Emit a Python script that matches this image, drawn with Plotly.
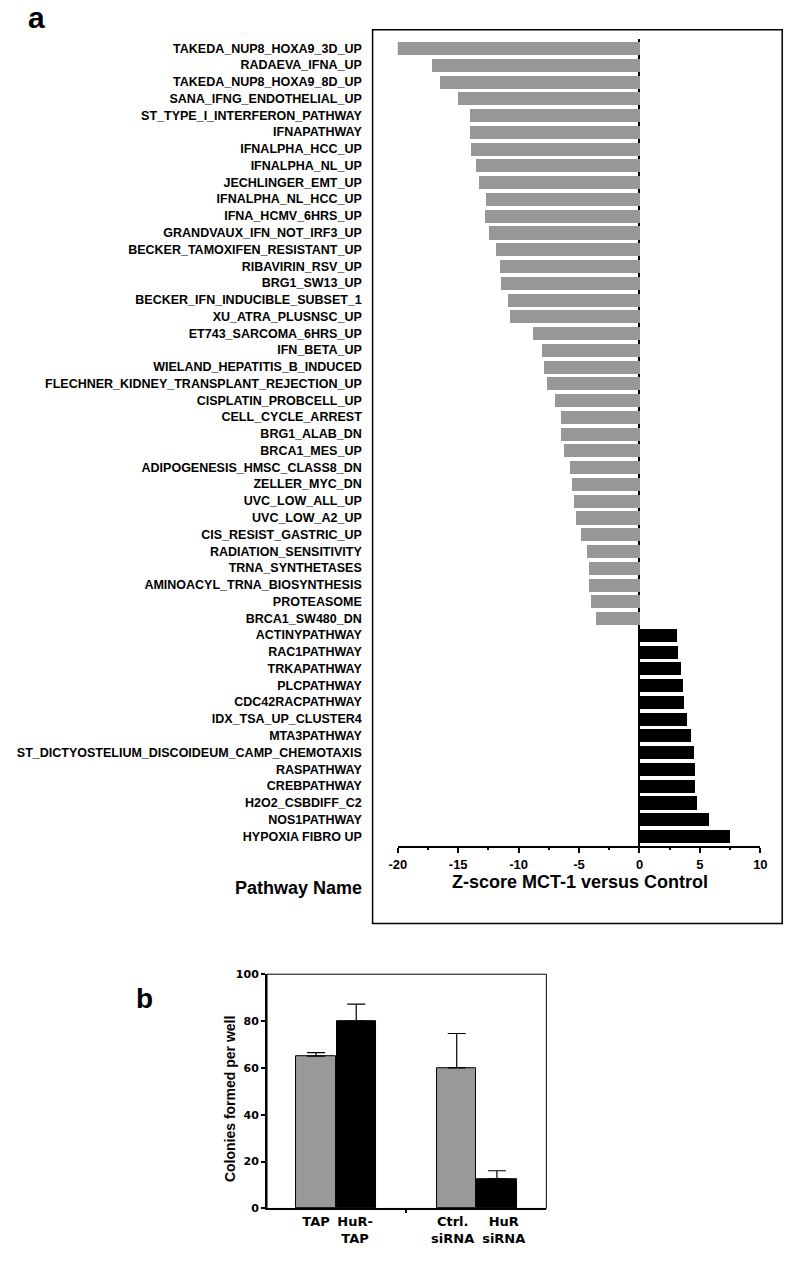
import plotly.graph_objects as go

W, H = 800, 1261

# ---------------- Panel a data ----------------
pathways = [
    "TAKEDA_NUP8_HOXA9_3D_UP", "RADAEVA_IFNA_UP", "TAKEDA_NUP8_HOXA9_8D_UP",
    "SANA_IFNG_ENDOTHELIAL_UP", "ST_TYPE_I_INTERFERON_PATHWAY", "IFNAPATHWAY",
    "IFNALPHA_HCC_UP", "IFNALPHA_NL_UP", "JECHLINGER_EMT_UP", "IFNALPHA_NL_HCC_UP",
    "IFNA_HCMV_6HRS_UP", "GRANDVAUX_IFN_NOT_IRF3_UP", "BECKER_TAMOXIFEN_RESISTANT_UP",
    "RIBAVIRIN_RSV_UP", "BRG1_SW13_UP", "BECKER_IFN_INDUCIBLE_SUBSET_1",
    "XU_ATRA_PLUSNSC_UP", "ET743_SARCOMA_6HRS_UP", "IFN_BETA_UP",
    "WIELAND_HEPATITIS_B_INDUCED", "FLECHNER_KIDNEY_TRANSPLANT_REJECTION_UP",
    "CISPLATIN_PROBCELL_UP", "CELL_CYCLE_ARREST", "BRG1_ALAB_DN", "BRCA1_MES_UP",
    "ADIPOGENESIS_HMSC_CLASS8_DN", "ZELLER_MYC_DN", "UVC_LOW_ALL_UP", "UVC_LOW_A2_UP",
    "CIS_RESIST_GASTRIC_UP", "RADIATION_SENSITIVITY", "TRNA_SYNTHETASES",
    "AMINOACYL_TRNA_BIOSYNTHESIS", "PROTEASOME", "BRCA1_SW480_DN",
    "ACTINYPATHWAY", "RAC1PATHWAY", "TRKAPATHWAY", "PLCPATHWAY", "CDC42RACPATHWAY",
    "IDX_TSA_UP_CLUSTER4", "MTA3PATHWAY", "ST_DICTYOSTELIUM_DISCOIDEUM_CAMP_CHEMOTAXIS",
    "RASPATHWAY", "CREBPATHWAY", "H2O2_CSBDIFF_C2", "NOS1PATHWAY", "HYPOXIA FIBRO UP",
]
zscores = [
    -20.25, -17.2, -16.55, -15.0, -14.05, -14.05, -14.0, -13.55, -13.3, -12.75,
    -12.8, -12.5, -11.9, -11.6, -11.45, -10.9, -10.75, -8.85, -8.1, -7.9,
    -7.7, -7.05, -6.55, -6.5, -6.25, -5.75, -5.6, -5.45, -5.3, -4.85,
    -4.35, -4.2, -4.2, -4.0, -3.65,
    3.1, 3.15, 3.45, 3.6, 3.65, 3.9, 4.2, 4.45, 4.55, 4.55, 4.7, 5.7, 7.5,
]
z_tickvals = [-20, -15, -10, -5, 0, 5, 10]
z_ticktext = ["-20", "-15", "-10", "-5", "0", "5", "10"]

# ---------------- Panel b data ----------------
b_labels = ["TAP", "HuR-<br>TAP", "Ctrl.<br>siRNA", "HuR<br>siRNA"]
b_pos = [0, 1, 3.5, 4.5]
b_values = [65, 80, 60, 12.7]
b_err = [1.5, 7.2, 14.7, 3.4]
b_colors = ["#999999", "#000000", "#999999", "#000000"]
b_yticks = [0, 20, 40, 60, 80, 100]

GRAY_A = "#979797"
ARIAL = "Liberation Sans, Arial, sans-serif"
VERD = "DejaVu Sans, Verdana, sans-serif"

# small horizontal nudges of the group labels (layout only)
label_nudge = [0.0, -0.03, -0.1, 0.17]


def px_x(p):
    return p / W


def px_y(p):
    return 1 - p / H


fig = go.Figure()

fig.add_trace(go.Bar(
    x=zscores, y=pathways, orientation="h",
    marker=dict(color=[GRAY_A if v < 0 else "#000000" for v in zscores], line=dict(width=0)),
    width=0.78, xaxis="x", yaxis="y", showlegend=False,
))

fig.add_trace(go.Bar(
    x=b_pos, y=b_values,
    marker=dict(color=b_colors, line=dict(color="#000000", width=1)),
    width=0.98,
    error_y=dict(type="data", symmetric=False, array=b_err,
                 arrayminus=[0] * len(b_err), color="#000000", thickness=1.2, width=9),
    xaxis="x2", yaxis="y2", showlegend=False,
))

fig.update_layout(
    width=W, height=H, autosize=False,
    margin=dict(l=0, r=0, t=0, b=0),
    paper_bgcolor="white", plot_bgcolor="white",
    bargap=0,
    xaxis=dict(
        domain=[px_x(396.7), px_x(766.7)], range=[-20, 10], anchor="y",
        tickmode="array", tickvals=z_tickvals, ticktext=z_ticktext,
        ticks="outside", ticklen=5, tickwidth=2, tickcolor="black",
        minor=dict(dtick=2.5, tick0=0, ticks="outside", ticklen=2, tickwidth=2, tickcolor="black"),
        showline=True, linecolor="black", linewidth=2,
        showgrid=False, zeroline=True, zerolinecolor="black", zerolinewidth=2,
        tickfont=dict(family=ARIAL, size=13, color="black", weight="bold"),
    ),
    yaxis=dict(
        domain=[px_y(849), px_y(33)], anchor="x",
        type="category", categoryorder="array", categoryarray=pathways,
        range=[47.6, -0.57],
        showline=False, showgrid=False, zeroline=False, ticks="",
        ticklabelstandoff=35,
        tickfont=dict(family=ARIAL, size=12.5, color="black", weight="bold"),
    ),
    xaxis2=dict(
        domain=[px_x(263.3), px_x(548.3)], range=[-1.22, 5.73], anchor="y2",
        tickmode="array", tickvals=[p + n for p, n in zip(b_pos, label_nudge)],
        ticktext=b_labels, ticks="", tickangle=0,
        minor=dict(tickmode="array", tickvals=[2.25], ticks="outside", ticklen=3,
                   tickwidth=1.5, tickcolor="black"),
        showline=True, linecolor="black", linewidth=2,
        showgrid=False, zeroline=False,
        tickfont=dict(family=VERD, size=13, color="black", weight="bold"),
    ),
    yaxis2=dict(
        domain=[px_y(1215), px_y(978.3)], range=[0, 100], anchor="x2",
        tickmode="array", tickvals=b_yticks,
        ticks="outside", ticklen=4, tickwidth=1.5, tickcolor="black",
        showline=True, linecolor="black", linewidth=2,
        showgrid=False, zeroline=False,
        tickfont=dict(family=VERD, size=11, color="black", weight="bold"),
    ),
    shapes=[
        # panel a frame
        dict(type="rect", xref="paper", yref="paper",
             x0=px_x(371), x1=px_x(789), y0=px_y(927), y1=px_y(24),
             line=dict(color="black", width=1.5)),
        # panel b frame (top/right)
        dict(type="rect", xref="x2 domain", yref="y2 domain",
             x0=0, x1=1, y0=0, y1=1, line=dict(color="black", width=1)),
    ],
    annotations=[
        dict(text="a", x=px_x(17), y=px_y(12), xref="paper", yref="paper",
             xanchor="left", yanchor="middle", showarrow=False,
             font=dict(family=ARIAL, size=30, color="black", weight="bold")),
        dict(text="b", x=px_x(128), y=px_y(1003), xref="paper", yref="paper",
             xanchor="left", yanchor="middle", showarrow=False,
             font=dict(family=ARIAL, size=28, color="black", weight="bold")),
        dict(text="Pathway Name", x=px_x(362), y=px_y(891), xref="paper", yref="paper",
             xanchor="right", yanchor="middle", showarrow=False,
             font=dict(family=ARIAL, size=18, color="black", weight="bold")),
        dict(text="Z-score MCT-1 versus Control", x=px_x(583), y=px_y(885),
             xref="paper", yref="paper", xanchor="center", yanchor="middle", showarrow=False,
             font=dict(family=ARIAL, size=18, color="black", weight="bold")),
        dict(text="Colonies formed per well", x=px_x(225), y=px_y(1105),
             xref="paper", yref="paper", xanchor="center", yanchor="middle",
             textangle=-90, showarrow=False,
             font=dict(family=ARIAL, size=14, color="black", weight="bold")),
    ],
)

post = (
    "var s=document.createElement('style');"
    "s.innerHTML='html,body{margin:0;padding:0;overflow:hidden;width:800px;height:1261px;}';"
    "document.head.appendChild(s);"
    "var d=document.getElementById('{plot_id}');"
    "d.style.position='absolute';d.style.left='0px';d.style.top='0px';"
)

fig.write_html("out.html", config={"displayModeBar": False}, post_script=post)
